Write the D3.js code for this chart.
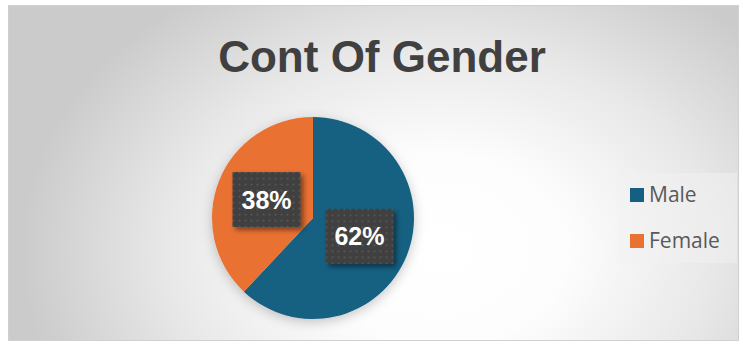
<!DOCTYPE html>
<html>
<head>
<meta charset="utf-8">
<script src="https://cdn.jsdelivr.net/npm/d3@7"></script>
<style>
  body { margin: 0; background: #ffffff; }
  svg { display: block; }
</style>
</head>
<body>
<svg id="chart" width="743" height="346"></svg>
<script>
var categories = ["Male", "Female"];
var values = [62, 38];
var colors = ["#156082", "#E97132"];
var labels = ["62%", "38%"];
var titleText = "Cont Of Gender";

var svg = d3.select("#chart");
var defs = svg.append("defs");

// background gradient, white near the middle, gray at the edges
var bg = defs.append("radialGradient")
	.attr("id", "bgGrad")
	.attr("gradientUnits", "userSpaceOnUse")
	.attr("cx", 440).attr("cy", 250).attr("r", 420)
	.attr("gradientTransform", "translate(440,250) scale(1,0.75) translate(-440,-250)");
bg.append("stop").attr("offset", "0%").attr("stop-color", "#ffffff");
bg.append("stop").attr("offset", "30%").attr("stop-color", "#fdfdfd");
bg.append("stop").attr("offset", "65%").attr("stop-color", "#e8e8e8");
bg.append("stop").attr("offset", "100%").attr("stop-color", "#cbcbcb");

var shadow = defs.append("filter").attr("id", "shadow")
	.attr("x", "-30%").attr("y", "-30%").attr("width", "160%").attr("height", "160%");
shadow.append("feDropShadow")
	.attr("dx", 0).attr("dy", 3).attr("stdDeviation", 6)
	.attr("flood-color", "#000").attr("flood-opacity", 0.22);

var boxShadow = defs.append("filter").attr("id", "boxShadow")
	.attr("x", "-30%").attr("y", "-30%").attr("width", "160%").attr("height", "160%");
boxShadow.append("feDropShadow")
	.attr("dx", 3).attr("dy", 3).attr("stdDeviation", 2.5)
	.attr("flood-color", "#000").attr("flood-opacity", 0.45);

var dots = defs.append("pattern").attr("id", "dots")
	.attr("width", 6).attr("height", 6).attr("patternUnits", "userSpaceOnUse");
dots.append("rect").attr("width", 6).attr("height", 6).attr("fill", "#3f3f3f");
dots.append("rect").attr("x", 2).attr("y", 2).attr("width", 2).attr("height", 2).attr("fill", "#545454");

svg.append("rect")
	.attr("x", 8.5).attr("y", 5.5).attr("width", 730).attr("height", 335)
	.attr("fill", "url(#bgGrad)")
	.attr("stroke", "#d0d0d0");

// title
svg.append("text")
	.attr("x", 382).attr("y", 72)
	.attr("text-anchor", "middle")
	.attr("font-family", "Liberation Sans, Arial, sans-serif")
	.attr("font-weight", "bold")
	.attr("font-size", 44)
	.attr("fill", "#404040")
	.text(titleText);

// pie
var cx = 313, cy = 218, radius = 101;
var pie = d3.pie().sort(null).value(function(d) { return d; });
var arc = d3.arc().innerRadius(0).outerRadius(radius);
var arcs = pie(values);

var g = svg.append("g").attr("transform", "translate(" + cx + "," + cy + ")");
g.append("g").attr("filter", "url(#shadow)")
	.selectAll("path")
	.data(arcs)
	.enter().append("path")
	.attr("d", arc)
	.attr("fill", function(d, i) { return colors[i]; });

// data labels
var labelArc = d3.arc().innerRadius(radius * 0.495).outerRadius(radius * 0.495);
var boxW = 68, boxH = 55;
var lbl = g.selectAll(".lbl")
	.data(arcs)
	.enter().append("g")
	.attr("class", "lbl")
	.attr("transform", function(d) {
		var c = labelArc.centroid(d);
		return "translate(" + c[0] + "," + c[1] + ")";
	});
lbl.append("rect")
	.attr("x", -boxW / 2).attr("y", -boxH / 2)
	.attr("width", boxW).attr("height", boxH)
	.attr("fill", "url(#dots)")
	.attr("filter", "url(#boxShadow)");
lbl.append("text")
	.attr("text-anchor", "middle")
	.attr("dy", "0.36em")
	.attr("font-family", "Liberation Sans, Arial, sans-serif")
	.attr("font-weight", "bold")
	.attr("font-size", 25)
	.attr("fill", "#ffffff")
	.text(function(d, i) { return labels[i]; });

// legend
var legend = svg.append("g").attr("transform", "translate(617,173)");
legend.append("rect")
	.attr("width", 120).attr("height", 90)
	.attr("fill", "#f2f2f2").attr("opacity", 0.5);
var item = legend.selectAll(".item")
	.data(categories)
	.enter().append("g")
	.attr("class", "item")
	.attr("transform", function(d, i) { return "translate(13," + (15 + i * 46) + ")"; });
item.append("rect")
	.attr("width", 14).attr("height", 14)
	.attr("fill", function(d, i) { return colors[i]; });
item.append("text")
	.attr("x", 19).attr("y", 14)
	.attr("font-family", "Open Sans, sans-serif")
	.attr("font-size", 21)
	.attr("fill", "#595959")
	.text(function(d) { return d; });
</script>
</body>
</html>
